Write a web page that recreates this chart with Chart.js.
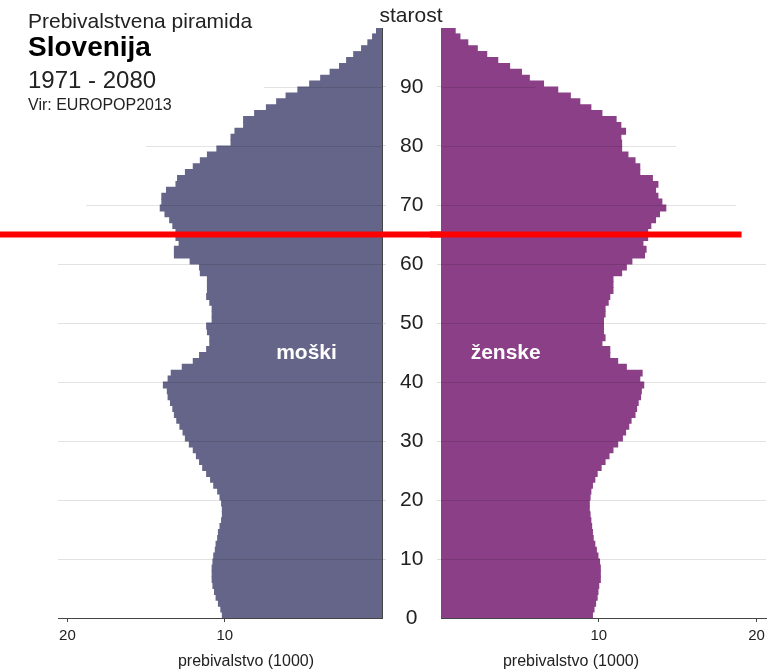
<!DOCTYPE html>
<html lang="sl">
<head>
<meta charset="utf-8">
<title>Prebivalstvena piramida - Slovenija</title>
<script src="https://cdn.jsdelivr.net/npm/chart.js@4.4.1/dist/chart.umd.min.js"></script>
<style>
  html, body { margin: 0; padding: 0; background: #fff; }
  #wrap { position: relative; width: 784px; height: 672px; overflow: hidden;
          font-family: "Liberation Sans", Arial, sans-serif; color: #222; }
  .box { position: absolute; top: 0; height: 672px; }
  #boxM { left: 0; width: 441px; }
  #boxZ { left: 430px; width: 354px; }
  .txt { position: absolute; white-space: nowrap; line-height: 1; }
  .mid { transform: translateX(-50%); }
</style>
</head>
<body>
<div id="wrap">
  <div class="box" id="boxM"><canvas id="grafMoski"></canvas></div>
  <div class="box" id="boxZ"><canvas id="grafZenske"></canvas></div>

  <div class="txt" style="left:28px; top:10px; font-size:21px;">Prebivalstvena piramida</div>
  <div class="txt" style="left:28px; top:33px; font-size:28px; font-weight:bold; color:#000;">Slovenija</div>
  <div class="txt" style="left:28px; top:68px; font-size:24px;">1971 - 2080</div>
  <div class="txt" style="left:28px; top:97px; font-size:16px;">Vir: EUROPOP2013</div>
  <div class="txt mid" style="left:411px; top:4px; font-size:21px;">starost</div>
  <div class="txt mid" style="left:246px; top:653px; font-size:16px;">prebivalstvo (1000)</div>
  <div class="txt mid" style="left:571px; top:653px; font-size:16px;">prebivalstvo (1000)</div>
</div>

<script>
// prebivalstvo (1000) po starosti 0..99
const moski = [
  10.15, 10.25, 10.4, 10.55, 10.65, 10.75, 10.8, 10.8, 10.8, 10.75,
  10.7, 10.6, 10.55, 10.45, 10.4, 10.3, 10.2, 10.15, 10.15, 10.2,
  10.3, 10.45, 10.7, 10.9, 11.15, 11.4, 11.6, 11.8, 12.0, 12.25,
  12.5, 12.65, 12.85, 13.05, 13.2, 13.3, 13.45, 13.6, 13.65, 13.9,
  13.6, 13.4, 12.7, 12.0, 11.6, 11.15, 10.95, 10.95, 11.1, 11.15,
  10.8, 10.8, 10.8, 10.95, 11.15, 11.1, 11.1, 11.1, 11.55, 11.6,
  12.2, 13.2, 13.2, 12.9, 13.1, 13.1, 13.3, 13.5, 13.8, 14.1,
  14.0, 14.0, 13.7, 13.1, 13.0, 12.5, 12.0, 11.55, 11.1, 10.5,
  9.6, 9.6, 9.35, 8.8, 8.8, 8.1, 7.35, 6.7, 6.1, 5.35,
  4.6, 3.9, 3.3, 2.7, 2.25, 1.8, 1.3, 0.9, 0.6, 0.35
];
const zenske = [
  9.6, 9.7, 9.8, 9.9, 9.95, 10.0, 10.1, 10.1, 10.1, 10.05,
  9.95, 9.85, 9.75, 9.65, 9.6, 9.55, 9.5, 9.45, 9.4, 9.4,
  9.45, 9.5, 9.6, 9.75, 9.9, 10.15, 10.4, 10.65, 10.9, 11.2,
  11.5, 11.7, 11.9, 12.05, 12.3, 12.4, 12.5, 12.65, 12.7, 12.85,
  12.6, 12.75, 11.75, 11.2, 10.7, 10.7, 10.2, 10.4, 10.3, 10.3,
  10.3, 10.4, 10.4, 10.6, 10.7, 10.9, 10.9, 10.9, 11.45, 11.75,
  12.1, 12.9, 13.0, 12.8, 13.1, 13.1, 13.3, 13.6, 13.85, 14.25,
  14.0, 13.75, 13.6, 13.75, 13.4, 12.6, 12.6, 12.3, 11.85, 11.45,
  11.45, 11.4, 11.7, 11.4, 11.1, 10.2, 9.5, 8.8, 8.2, 7.4,
  6.5, 5.6, 5.1, 4.35, 3.6, 2.9, 2.3, 1.7, 1.2, 0.9
];
const starost = moski.map((_, i) => i);

// pomozne crte: starost in dolzina crte (v 1000) na vsaki strani
const mrezaStarost = [0, 10, 20, 30, 40, 50, 60, 70, 80, 90];
const mrezaMoski = [20.6, 20.6, 20.6, 20.6, 20.6, 20.6, 20.6, 18.8, 15.0, 7.5];
const mrezaZenske = [20.6, 20.6, 20.6, 20.6, 20.6, 20.6, 20.6, 18.7, 14.9, 6.0];

const xMax = 20.6;
const crtaStarost = 65;   // rdeca crta
const crtaKonec = 19.05;  // kje se rdeca crta konca na desni
const napisStarost = 44.9;

Chart.defaults.font.family = '"Liberation Sans", Arial, sans-serif';
Chart.defaults.color = "#222";

function tocke(vrednosti) {
  return vrednosti.map((v, i) => ({ x: v, y: starost[i] + 0.5 }));
}

// crte mreze z razlicno dolzino, pod barvo stolpcev (multiply)
function mrezaPlugin(dolzine) {
  return {
    id: "mreza",
    afterDatasetsDraw(chart) {
      const { ctx, scales: { x, y } } = chart;
      ctx.save();
      ctx.globalCompositeOperation = "multiply";
      ctx.strokeStyle = "#e2e2e2";
      ctx.lineWidth = 1;
      mrezaStarost.forEach((a, i) => {
        if (a === 0) return;
        const py = Math.round(y.getPixelForValue(a)) + 0.5;
        ctx.beginPath();
        ctx.moveTo(x.getPixelForValue(0), py);
        ctx.lineTo(x.getPixelForValue(dolzine[i]), py);
        ctx.stroke();
      });
      ctx.restore();
    }
  };
}

function napisPlugin(tekst, vrednost) {
  return {
    id: "napis",
    afterDatasetsDraw(chart) {
      const { ctx, scales: { x, y } } = chart;
      ctx.save();
      ctx.fillStyle = "#fff";
      ctx.font = 'bold 21px "Liberation Sans", Arial, sans-serif';
      ctx.textAlign = "center";
      ctx.textBaseline = "middle";
      ctx.fillText(tekst, x.getPixelForValue(vrednost), y.getPixelForValue(napisStarost));
      ctx.restore();
    }
  };
}

function rdecaCrta(doKonca) {
  return {
    id: "rdeca",
    afterDraw(chart) {
      const { ctx, scales: { x, y } } = chart;
      const py = y.getPixelForValue(crtaStarost);
      const konec = doKonca ? chart.width : x.getPixelForValue(crtaKonec);
      ctx.save();
      ctx.fillStyle = "#ff0000";
      ctx.fillRect(0, py - 3, konec, 6);
      ctx.restore();
    }
  };
}

function xOs(obrnjena) {
  return {
    type: "linear",
    reverse: obrnjena,
    min: 0,
    max: xMax,
    z: 1,
    border: { display: true, color: "#444", width: 1 },
    grid: { drawOnChartArea: false, drawTicks: true, tickLength: 4,
            color: c => (c.tick && c.tick.value === 0 ? "rgba(0,0,0,0)" : "#444") },
    ticks: {
      stepSize: 10,
      includeBounds: false,
      padding: 5,
      font: { size: 15 },
      color: "#222",
      callback: v => (v === 0 ? "" : v)
    },
    afterFit: s => { s.height = 54; }
  };
}

function skupneMoznosti() {
  return {
    responsive: true,
    maintainAspectRatio: false,
    animation: false,
    indexAxis: "y",
    plugins: { legend: { display: false }, tooltip: { enabled: false } }
  };
}

// moski (levo)
new Chart(document.getElementById("grafMoski"), {
  type: "bar",
  data: {
    datasets: [{
      label: "moški",
      data: tocke(moski),
      backgroundColor: "#65658a",
      borderWidth: 0,
      barPercentage: 1,
      categoryPercentage: 1,
      inflateAmount: 0.5
    }]
  },
  options: Object.assign(skupneMoznosti(), {
    layout: { padding: { left: 58, top: 28, right: 0, bottom: 0 } },
    scales: {
      x: xOs(true),
      y: {
        type: "linear",
        position: "right",
        min: 0,
        max: 100,
        offset: false,
        z: 1,
        border: { display: true, color: "#444", width: 1 },
        grid: { offset: false, drawOnChartArea: false, drawTicks: true, tickLength: 4,
                color: c => (c.tick && (c.tick.value > 90 || c.tick.value === 0) ? "rgba(0,0,0,0)" : "#dddddd") },
        ticks: {
          stepSize: 10,
          includeBounds: false,
          padding: 14,
          crossAlign: "center",
          font: { size: 21 },
          color: "#222",
          callback: v => (v <= 90 ? v : "")
        },
        afterFit: s => { s.width = 59; }
      }
    }
  }),
  plugins: [mrezaPlugin(mrezaMoski), napisPlugin("moški", 4.8), rdecaCrta(true)]
});

// zenske (desno)
new Chart(document.getElementById("grafZenske"), {
  type: "bar",
  data: {
    datasets: [{
      label: "ženske",
      data: tocke(zenske),
      backgroundColor: "#8a3f87",
      borderWidth: 0,
      barPercentage: 1,
      categoryPercentage: 1,
      inflateAmount: 0.5
    }]
  },
  options: Object.assign(skupneMoznosti(), {
    layout: { padding: { left: 0, top: 28, right: 18, bottom: 0 } },
    scales: {
      x: xOs(false),
      y: {
        type: "linear",
        position: "left",
        min: 0,
        max: 100,
        offset: false,
        z: 1,
        border: { display: true, color: "#444", width: 1 },
        grid: { offset: false, drawOnChartArea: false, drawTicks: true, tickLength: 4,
                color: c => (c.tick && (c.tick.value > 90 || c.tick.value === 0) ? "rgba(0,0,0,0)" : "#dddddd") },
        ticks: { stepSize: 10, includeBounds: false, display: false },
        afterFit: s => { s.width = 11; }
      }
    }
  }),
  plugins: [mrezaPlugin(mrezaZenske), napisPlugin("ženske", 4.1), rdecaCrta(false)]
});
</script>
</body>
</html>
